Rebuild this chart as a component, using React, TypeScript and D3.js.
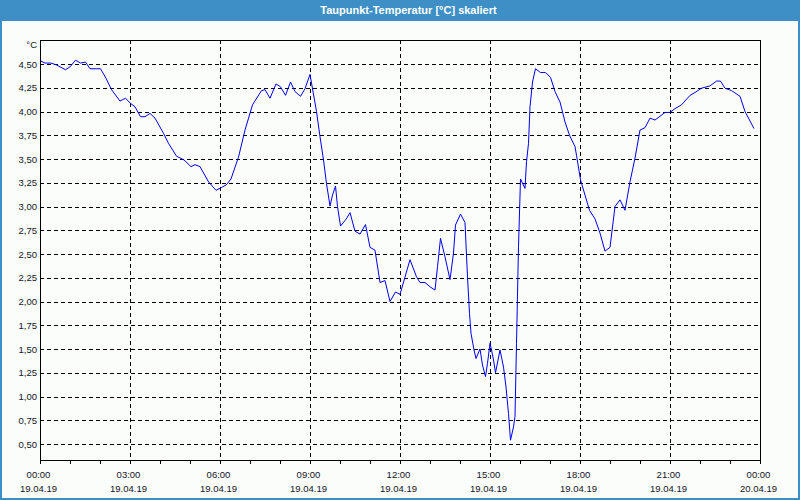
import React from "react";
import * as d3 from "d3";

const TITLE = "Taupunkt-Temperatur [°C] skaliert";
const UNIT = "°C";

// time in minutes since 19.04.19 00:00
const minutes = [
  2, 10, 22, 33, 51, 60, 71, 81, 91, 100, 121, 132, 143, 160, 171, 180, 190, 201, 210, 220,
  230, 247, 257, 273, 288, 302, 310, 320, 337, 352, 363, 373, 382, 397, 410, 425, 443, 450,
  460, 472, 481, 491, 501, 510, 521, 530, 540, 553, 560, 567, 573, 580, 585, 591, 595, 601,
  612, 620, 630, 640, 651, 660, 670, 680, 690, 700, 711, 720, 740, 753, 760, 770, 780, 790,
  795, 801, 810, 820, 827, 831, 841, 850, 855, 859, 862, 868, 872, 880, 885, 891, 895, 900,
  903, 907, 911, 920, 927, 932, 937, 941, 947, 950, 953, 957, 961, 970, 973, 977, 980, 985,
  991, 1001, 1011, 1021, 1030, 1040, 1050, 1059, 1070, 1073, 1081, 1090, 1099, 1110, 1120,
  1130, 1140, 1150, 1160, 1170, 1180, 1190, 1200, 1210, 1220, 1230, 1240, 1250, 1260, 1270,
  1283, 1300, 1310, 1323, 1340, 1353, 1361, 1370, 1383, 1400, 1410, 1428,
];

const dewpoint = [
  4.53, 4.51, 4.51, 4.49, 4.44, 4.47, 4.54, 4.51, 4.52, 4.45, 4.45, 4.35, 4.23, 4.11, 4.14,
  4.09, 4.05, 3.945, 3.945, 3.98, 3.93, 3.77, 3.665, 3.53, 3.49, 3.42, 3.44, 3.42, 3.26,
  3.17, 3.2, 3.23, 3.29, 3.52, 3.805, 4.07, 4.22, 4.23, 4.14, 4.29, 4.26, 4.17, 4.31, 4.21,
  4.16, 4.24, 4.39, 4.0, 3.735, 3.49, 3.24, 3.005, 3.12, 3.215, 3.0, 2.795, 2.865, 2.935,
  2.74, 2.71, 2.81, 2.57, 2.54, 2.2, 2.22, 2.0, 2.1, 2.075, 2.44, 2.26, 2.2, 2.2, 2.155,
  2.12, 2.365, 2.665, 2.47, 2.23, 2.51, 2.805, 2.92, 2.83, 2.26, 1.875, 1.665, 1.49, 1.4,
  1.5, 1.33, 1.21, 1.35, 1.56, 1.49, 1.385, 1.25, 1.49, 1.31, 1.1, 0.82, 0.54, 0.68, 0.79,
  1.56, 2.58, 3.29, 3.19, 3.47, 3.665, 4.05, 4.31, 4.45, 4.41, 4.41, 4.36, 4.21, 4.1, 3.89,
  3.75, 3.63, 3.54, 3.28, 3.12, 2.96, 2.87, 2.72, 2.53, 2.57, 3.0, 3.07, 2.96, 3.26, 3.51,
  3.805, 3.83, 3.93, 3.91, 3.95, 3.99, 3.99, 4.03, 4.07, 4.17, 4.2, 4.245, 4.27, 4.32, 4.32,
  4.245, 4.22, 4.16, 4.0, 3.82,
];

const yTicks = [0.5, 0.75, 1.0, 1.25, 1.5, 1.75, 2.0, 2.25, 2.5, 2.75, 3.0, 3.25, 3.5, 3.75, 4.0, 4.25, 4.5];
const xTickMinutes = [0, 180, 360, 540, 720, 900, 1080, 1260, 1440];
const xTimeLabels = ["00:00", "03:00", "06:00", "09:00", "12:00", "15:00", "18:00", "21:00", "00:00"];
const xDateLabels = ["19.04.19", "19.04.19", "19.04.19", "19.04.19", "19.04.19", "19.04.19", "19.04.19", "19.04.19", "20.04.19"];
const hourTicks = d3.range(0, 1441, 60);

const W = 800;
const H = 500;
const left = 40;
const right = 760;
const top = 40;
const bottom = 460;

export default function App() {
  const x = d3.scaleLinear().domain([0, 1440]).range([left, right]);
  const y = d3.scaleLinear().domain([0.5, 4.5]).range([444, 64]);
  const data = minutes.map((m, i) => [m, dewpoint[i]] as [number, number]);
  const line = d3
    .line<[number, number]>()
    .x((d) => x(d[0]))
    .y((d) => y(d[1]));
  const font = "'Liberation Sans', Arial, sans-serif";
  const textColor = "#141428";
  const fmt = (v: number) => v.toFixed(2).replace(".", ",");

  return (
    <svg
      width={W}
      height={H}
      style={{ position: "fixed", left: 0, top: 0, display: "block" }}
      fontFamily={font}
    >
      <rect x={0} y={0} width={W} height={H} fill="#3d8fc6" />
      <rect x={2} y={21} width={W - 4} height={H - 21 - 2} fill="#fbfdfb" />
      <text
        x={408.5}
        y={13.5}
        fill="#ffffff"
        fontSize={11}
        fontWeight="bold"
        textAnchor="middle"
      >
        {TITLE}
      </text>

      {/* horizontal grid */}
      {yTicks.map((v) => (
        <line
          key={"h" + v}
          x1={left}
          x2={right}
          y1={Math.round(y(v)) + 0.5}
          y2={Math.round(y(v)) + 0.5}
          stroke="#000"
          strokeWidth={1}
          strokeDasharray="4,3"
          shapeRendering="crispEdges"
        />
      ))}
      {/* vertical grid */}
      {xTickMinutes.slice(1, -1).map((m) => (
        <line
          key={"v" + m}
          x1={Math.round(x(m)) + 0.5}
          x2={Math.round(x(m)) + 0.5}
          y1={top}
          y2={bottom}
          stroke="#000"
          strokeWidth={1}
          strokeDasharray="4,3"
          shapeRendering="crispEdges"
        />
      ))}
      {/* hour ticks */}
      {hourTicks.map((m) => (
        <line
          key={"t" + m}
          x1={Math.round(x(m)) + 0.5}
          x2={Math.round(x(m)) + 0.5}
          y1={bottom}
          y2={bottom + 4}
          stroke="#000"
          strokeWidth={1}
          shapeRendering="crispEdges"
        />
      ))}
      {/* frame */}
      <rect
        x={left + 0.5}
        y={top + 0.5}
        width={right - left}
        height={bottom - top}
        fill="none"
        stroke="#000"
        strokeWidth={1}
        shapeRendering="crispEdges"
      />

      <path d={line(data) || ""} fill="none" stroke="#0000ee" strokeWidth={1} />

      {/* y labels */}
      {yTicks.map((v) => (
        <text
          key={"yl" + v}
          x={37}
          y={y(v) + 3.5}
          fontSize={9.5}
          textAnchor="end"
          fill={textColor}
        >
          {fmt(v)}
        </text>
      ))}
      <text x={37} y={48} fontSize={9.5} textAnchor="end" fill={textColor}>
        {UNIT}
      </text>

      {/* x labels */}
      {xTickMinutes.map((m, i) => (
        <g key={"xl" + i}>
          <text
            x={x(m) - 1.5}
            y={477.5}
            fontSize={9.5}
            textAnchor="middle"
            fill={textColor}
          >
            {xTimeLabels[i]}
          </text>
          <text
            x={x(m) - 1.5}
            y={492}
            fontSize={9.5}
            textAnchor="middle"
            fill={textColor}
          >
            {xDateLabels[i]}
          </text>
        </g>
      ))}
    </svg>
  );
}
